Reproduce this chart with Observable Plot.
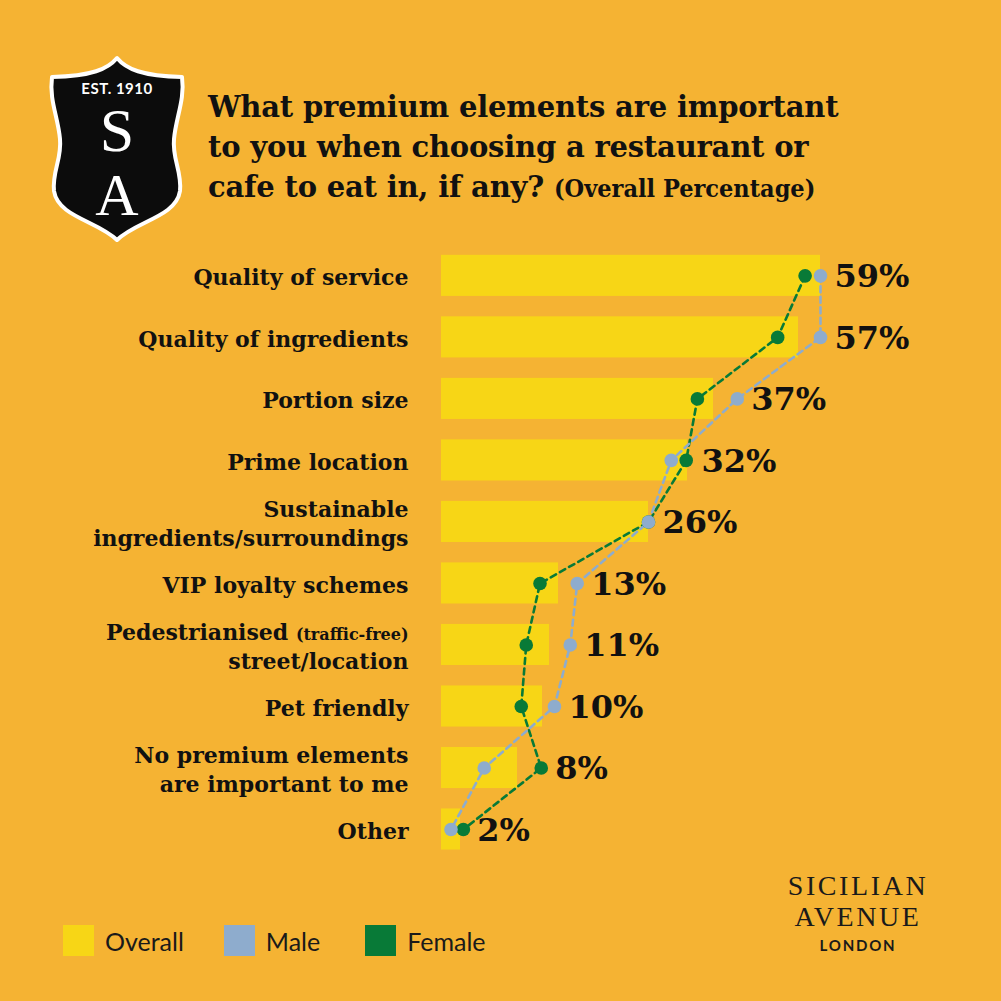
<!DOCTYPE html>
<html>
<head>
<meta charset="utf-8">
<script src="https://cdn.jsdelivr.net/npm/d3@7"></script>
<script src="https://cdn.jsdelivr.net/npm/@observablehq/plot@0.6"></script>
<style>
  html, body { margin: 0; padding: 0; background: #F5B333; }
  #wrap { position: relative; width: 1001px; height: 1001px; background: #F5B333; overflow: hidden; }
  #title { position: absolute; left: 208px; top: 87px; font-family: "DejaVu Serif"; font-weight: bold; font-size: 29px; line-height: 40px; color: #111; letter-spacing: -0.2px; white-space: nowrap; }
  #title .sub { font-family: "DejaVu Serif Condensed", "DejaVu Serif"; font-stretch: condensed; font-size: 25px; letter-spacing: 0; }
  #chart { position: absolute; left: 0; top: 220px; }
  #legend { position: absolute; left: 63px; top: 925px; display: flex; align-items: center; font-family: Lato, "Noto Sans", sans-serif; font-size: 25px; color: #1a1a1a; }
  #legend .item { display: flex; align-items: center; }
  #legend .sw { width: 31px; height: 31px; margin-right: 11px; }
  #brand { position: absolute; left: 766px; top: 870px; width: 184px; text-align: center; color: #1a1a1a; }
  #brand .big { font-family: "Liberation Serif"; font-size: 28px; line-height: 31px; letter-spacing: 2.6px; }
  #brand .small { font-family: Lato, sans-serif; font-weight: bold; font-size: 15px; letter-spacing: 1.8px; margin-top: 4px; }
  #logo { position: absolute; left: 46px; top: 55px; }
</style>
</head>
<body>
<div id="wrap">
  <svg id="logo" width="142" height="188" viewBox="0 0 142 188">
    <path d="M71,3 C62,14 46,21 6,22 C3,45 12,62 14,84 C16,104 6,116 8,136 C12,162 52,166 71,185 C90,166 130,162 134,136 C136,116 126,104 128,84 C130,62 139,45 136,22 C96,21 80,14 71,3 Z" fill="#0c0c0c" stroke="#ffffff" stroke-width="4" stroke-linejoin="round"/>
    <text x="71" y="39" text-anchor="middle" fill="#fff" font-family="Lato, sans-serif" font-weight="bold" font-size="15" letter-spacing="0.5">EST. 1910</text>
    <text x="71" y="96" text-anchor="middle" fill="#fff" font-family="Liberation Serif" font-size="62">S</text>
    <text x="71" y="160" text-anchor="middle" fill="#fff" font-family="Liberation Serif" font-size="60">A</text>
  </svg>
  <div id="title">What premium elements are important<br>to you when choosing a restaurant or<br>cafe to eat in, if any? <span class="sub">(Overall Percentage)</span></div>
  <div id="chart"></div>
  <div id="legend">
    <div class="item"><div class="sw" style="background:#F7D616"></div><span>Overall</span></div>
    <div class="item" style="margin-left:40px"><div class="sw" style="background:#8EACCD"></div><span>Male</span></div>
    <div class="item" style="margin-left:45px"><div class="sw" style="background:#087A37"></div><span>Female</span></div>
  </div>
  <div id="brand">
    <div class="big">SICILIAN</div>
    <div class="big">AVENUE</div>
    <div class="small">LONDON</div>
  </div>
</div>
<script>
// Categories (top to bottom)
const categories = [
  "Quality of service",
  "Quality of ingredients",
  "Portion size",
  "Prime location",
  "Sustainable\ningredients/surroundings",
  "VIP loyalty schemes",
  "Pedestrianised (traffic-free)\nstreet/location",
  "Pet friendly",
  "No premium elements\nare important to me",
  "Other"
];
// Overall percentages (labelled values)
const overall = [59, 57, 37, 32, 26, 13, 11, 10, 8, 2];
// Male / Female
const male   = [59, 59, 42.6, 29.5, 26, 15.7, 14.7, 12.1, 4.5, 1];
const female = [57.6, 52.1, 33.9, 31.8, 26, 9.8, 8.7, 8.3, 9.9, 2.3];

// The infographic's value axis is not uniform: each labelled percentage has its own drawn bar length
const xKnots = [0, 2, 8, 10, 11, 13, 26, 32, 37, 57, 59];
const xKnotDrawn = [0, 19, 76, 101, 108, 117, 207, 246, 272, 357, 379];
const warp = d3.scaleLinear(xKnots, xKnotDrawn);

const data = categories.map((c, i) => ({cat: c, overall: overall[i], male: male[i], female: female[i]}));

const GREEN = "#087A37", BLUE = "#8EACCD", YELLOW = "#F7D616";

const chart = Plot.plot({
  width: 1001,
  height: 660,
  marginTop: 14.4,
  marginBottom: 10,
  marginLeft: 441,
  marginRight: 181,
  style: {background: "transparent", fontFamily: "DejaVu Serif", color: "#111"},
  x: {transform: warp, domain: [0, 379], axis: null},
  y: {domain: categories, padding: 0.332, round: false, label: null},
  marks: [
    Plot.barX(data, {y: "cat", x: "overall", fill: YELLOW}),
    Plot.line(data, {x: "female", y: "cat", stroke: GREEN, strokeWidth: 2.6, strokeDasharray: "6,4.5"}),
    Plot.line(data, {x: "male", y: "cat", stroke: BLUE, strokeWidth: 2.6, strokeDasharray: "6,4.5"}),
    Plot.dot(data, {x: "female", y: "cat", r: 6.8, fill: GREEN}),
    Plot.dot(data, {x: "male", y: "cat", r: 6.8, fill: BLUE}),
    Plot.text(data, {
      x: d => Math.max(d.overall, d.male, d.female), y: "cat",
      text: d => d.overall + "%", dx: 14, dy: 1, textAnchor: "start",
      fontSize: 32, fontWeight: "bold", fill: "#111", fontFamily: "DejaVu Serif"
    }),
    Plot.axisY({tickSize: 0, tickPadding: 33, fontSize: 22, fontWeight: "bold", lineHeight: 1.33, fill: "#111", label: null})
  ]
});
document.getElementById("chart").appendChild(chart);

// make "(traffic-free)" smaller, as in the original
chart.querySelectorAll("tspan, text").forEach(el => {
  if (el.childElementCount === 0 && el.textContent.includes("(traffic-free)")) {
    const t = el.textContent.replace("(traffic-free)", "");
    el.textContent = t;
    const s = document.createElementNS("http://www.w3.org/2000/svg", "tspan");
    s.setAttribute("font-size", "16");
    s.textContent = "(traffic-free)";
    el.appendChild(s);
  }
});
</script>
</body>
</html>
